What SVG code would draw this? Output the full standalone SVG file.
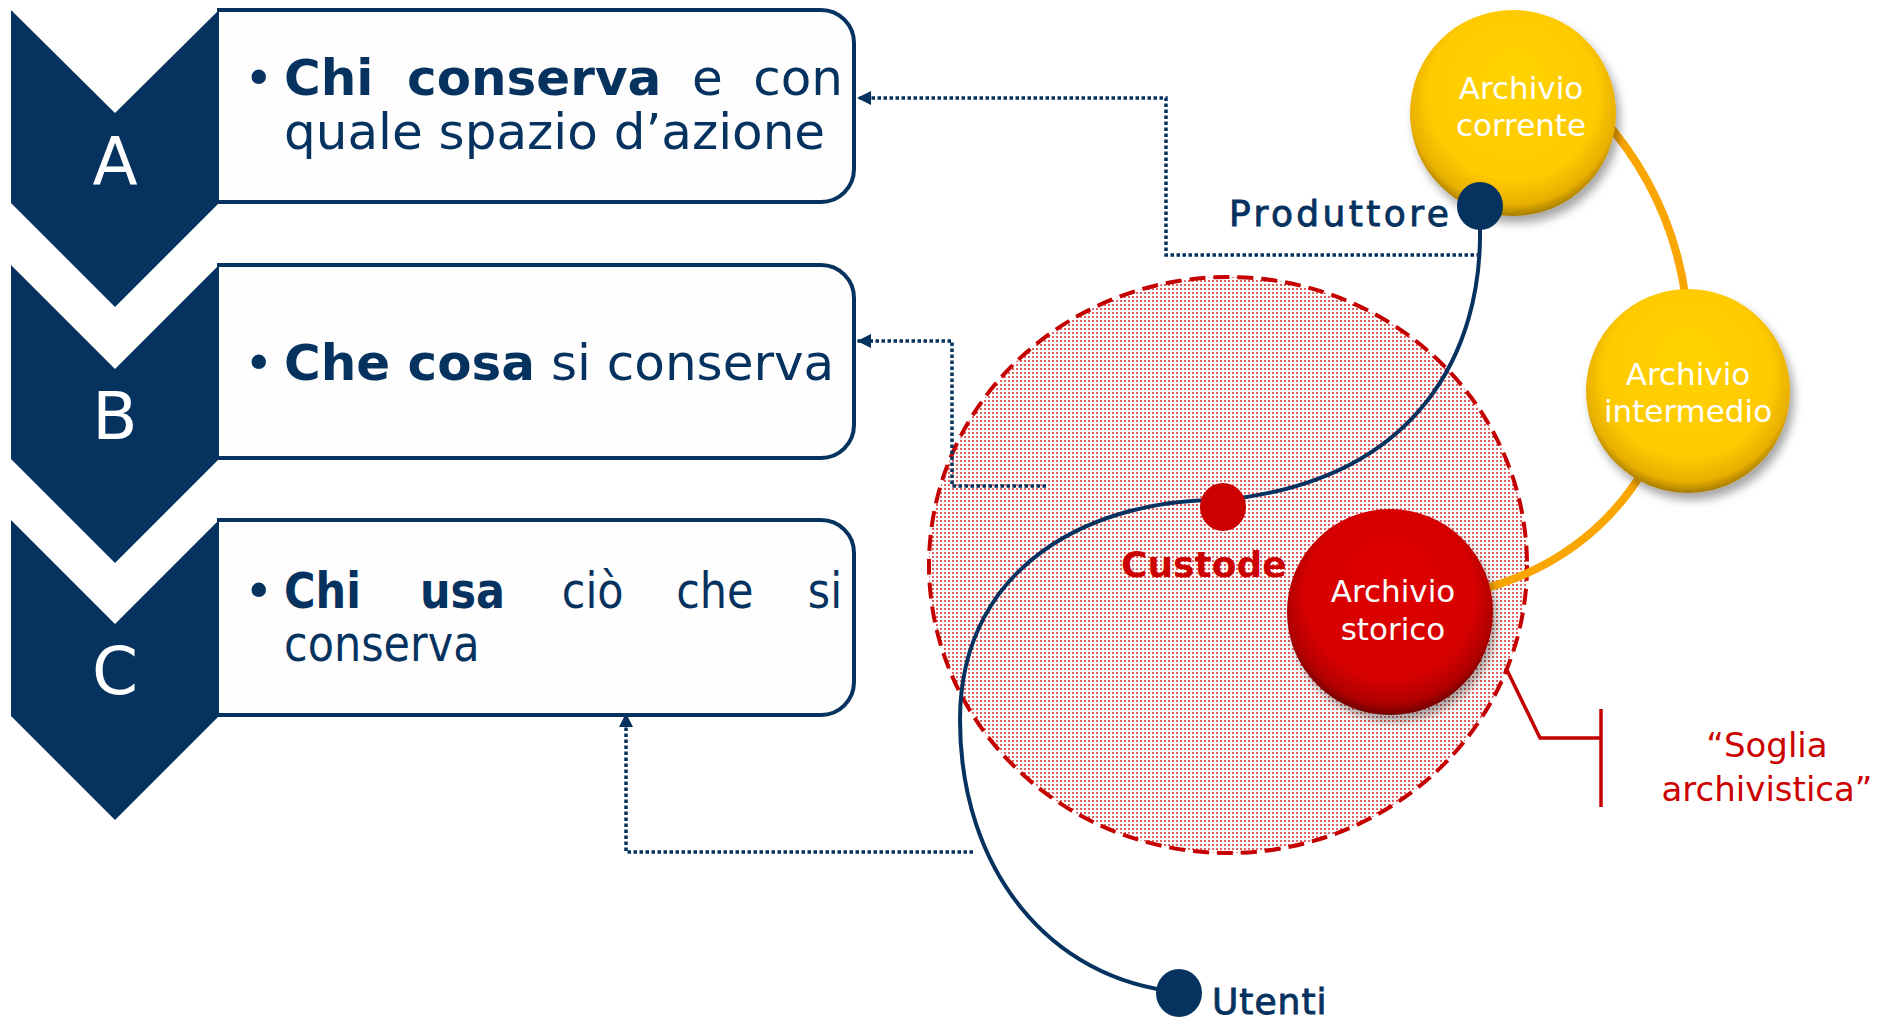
<svg xmlns="http://www.w3.org/2000/svg" width="1894" height="1019" viewBox="0 0 1894 1019">
<style>
.navy{fill:#05325f}
.box{fill:#fefefe;stroke:#05325f;stroke-width:4}
.letter{font-family:"DejaVu Sans",Verdana,sans-serif;font-size:66px;fill:#fff;text-anchor:middle}
.t{font-family:"DejaVu Sans",Verdana,sans-serif;font-size:50px;fill:#05325f}
.b{font-weight:bold}
.ctext{font-family:"DejaVu Sans",Verdana,sans-serif;font-size:31px;fill:#fff;text-anchor:middle}
.lbl{font-family:"DejaVu Sans",Verdana,sans-serif;font-size:36px}
.nlbl{fill:#05325f;stroke:#05325f;stroke-width:0.9}
.dot{stroke:#05325f;stroke-width:3.5;stroke-dasharray:3.5 2.5;fill:none}
.orange{fill:none;stroke:#f9a602;stroke-width:8}
</style>
<defs>
<pattern id="reddots" width="4" height="4" patternUnits="userSpaceOnUse">
<rect width="4" height="4" fill="#ffffff"/>
<rect width="2" height="2" fill="#e26262"/>
</pattern>
<radialGradient id="gy" cx="50%" cy="45%" r="55%" fx="50%" fy="30%">
<stop offset="0" stop-color="#ffd200"/>
<stop offset="0.75" stop-color="#ffca00"/>
<stop offset="0.92" stop-color="#e8b000"/>
<stop offset="1" stop-color="#a67c00"/>
</radialGradient>
<radialGradient id="gr" cx="50%" cy="45%" r="55%" fx="50%" fy="30%">
<stop offset="0" stop-color="#e00000"/>
<stop offset="0.75" stop-color="#d60000"/>
<stop offset="0.92" stop-color="#b00000"/>
<stop offset="1" stop-color="#700000"/>
</radialGradient>
<filter id="sh" x="-25%" y="-25%" width="160%" height="160%">
<feDropShadow dx="4" dy="7" stdDeviation="5" flood-color="#000" flood-opacity="0.35"/>
</filter>
<marker id="arr" viewBox="0 0 10 10" refX="10" refY="5" markerWidth="14" markerHeight="14" markerUnits="userSpaceOnUse" orient="auto">
<path d="M0,0 L10,5 L0,10 z" fill="#05325f"/>
</marker>
</defs>

<g id="node-a">
<path class="box" d="M217,10 H821 A33,33 0 0 1 854,43 V169 A33,33 0 0 1 821,202 H217"/>
<polygon class="navy" points="11,10 115,113 219,10 219,203 115,307 11,203"/>
<text class="letter" x="115" y="184">A</text>
<text class="t" x="244" y="95">•</text>
<text class="t b" x="284" y="95">Chi</text>
<text class="t b" x="407" y="95">conserva</text>
<text class="t" x="692" y="95">e</text>
<text class="t" x="843" y="95" text-anchor="end">con</text>
<text class="t" x="284" y="149">quale spazio d’azione</text>
</g>

<g id="node-b">
<path class="box" d="M217,265 H821 A33,33 0 0 1 854,298 V425 A33,33 0 0 1 821,458 H217"/>
<polygon class="navy" points="11,265 115,369 219,265 219,459 115,563 11,459"/>
<text class="letter" x="115" y="439">B</text>
<text class="t" x="244" y="380">•</text>
<text class="t" x="284" y="380"><tspan class="b">Che cosa</tspan> si conserva</text>
</g>

<g id="node-c">
<path class="box" d="M217,520 H821 A33,33 0 0 1 854,553 V682 A33,33 0 0 1 821,715 H217"/>
<polygon class="navy" points="11,520 115,624 219,520 219,716 115,820 11,716"/>
<text class="letter" x="115" y="694">C</text>
<text class="t" x="244" y="608">•</text>
<g transform="translate(284,0) scale(0.86,1) translate(-284,0)">
<text class="t b" x="284" y="608">Chi</text>
<text class="t b" x="442" y="608">usa</text>
<text class="t" x="607" y="608">ciò</text>
<text class="t" x="740" y="608">che</text>
<text class="t" x="933" y="608" text-anchor="end">si</text>
<text class="t" x="284" y="661">conserva</text>
</g>
</g>

<g id="soglia-archivistica">
<ellipse cx="1228" cy="565" rx="299" ry="288" fill="url(#reddots)" stroke="#c40000" stroke-width="4" stroke-dasharray="16 8"/>
<polyline points="1506,668 1540,738 1601,738" fill="none" stroke="#c40000" stroke-width="3.5"/>
<line x1="1601" y1="709" x2="1601" y2="807" stroke="#c40000" stroke-width="3.5"/>
<text x="1767" y="757" font-family="DejaVu Sans, Verdana, sans-serif" font-size="34" fill="#cc0000" text-anchor="middle">“Soglia</text>
<text x="1767" y="801" font-family="DejaVu Sans, Verdana, sans-serif" font-size="34" fill="#cc0000" text-anchor="middle">archivistica”</text>
</g>

<g id="connectors">
<path class="orange" d="M1600,115 Q1672,195 1686,300"/>
<path class="orange" d="M1645,468 Q1590,560 1480,590"/>
<path d="M1480,228 C1482,350 1420,480 1223,500 C1100,498 960,560 960,720 C960,870 1050,980 1179,992" fill="none" stroke="#05325f" stroke-width="4"/>
<path class="dot" d="M1480,255 H1166 V98 H857" marker-end="url(#arr)"/>
<path class="dot" d="M1046,486 H952 V341 H857" marker-end="url(#arr)"/>
<path class="dot" d="M973,852 H626 V713" marker-end="url(#arr)"/>
</g>

<g id="archivio-corrente">
<circle cx="1513" cy="113" r="103" fill="url(#gy)" filter="url(#sh)"/>
<text class="ctext" x="1521" y="99">Archivio</text>
<text class="ctext" x="1521" y="136">corrente</text>
</g>

<g id="archivio-intermedio">
<circle cx="1688" cy="391" r="102" fill="url(#gy)" filter="url(#sh)"/>
<text class="ctext" x="1688" y="385">Archivio</text>
<text class="ctext" x="1688" y="422">intermedio</text>
</g>

<g id="archivio-storico">
<circle cx="1390" cy="612" r="103" fill="url(#gr)" filter="url(#sh)"/>
<text class="ctext" x="1393" y="602">Archivio</text>
<text class="ctext" x="1393" y="640">storico</text>
</g>

<g id="produttore">
<ellipse cx="1480" cy="206" rx="23" ry="24" fill="#05325f"/>
<text class="lbl nlbl" x="1229" y="226" font-size="35" letter-spacing="3.4">Produttore</text>
</g>

<g id="custode">
<ellipse cx="1223" cy="507" rx="23" ry="24" fill="#cc0000"/>
<text class="lbl" x="1121" y="577" fill="#cc0000" font-weight="bold">Custode</text>
</g>

<g id="utenti">
<ellipse cx="1179" cy="993" rx="23" ry="24" fill="#05325f"/>
<text class="lbl nlbl" x="1212" y="1014" font-size="38" letter-spacing="1">Utenti</text>
</g>
</svg>
